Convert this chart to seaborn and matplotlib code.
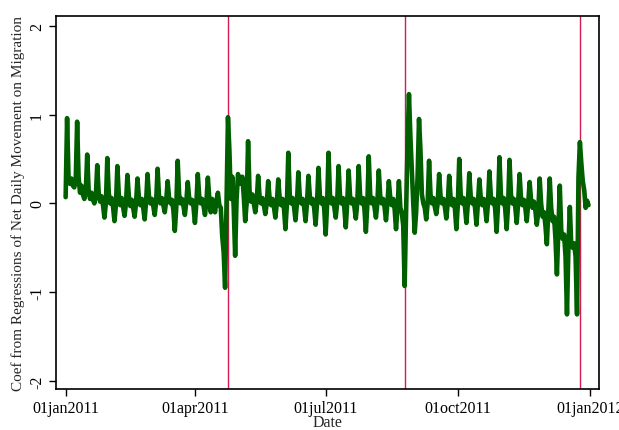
import pandas as pd
import numpy as np
import matplotlib
matplotlib.use("Agg")
import matplotlib.pyplot as plt
import matplotlib.dates as mdates
import seaborn as sns

# daily coefficients, one row per week (Sat .. Fri), starting 01jan2011
coef = [
    0.07, 0.96, 0.30, 0.22, 0.28, 0.20, 0.18,
    0.25, 0.92, 0.30, 0.12, 0.20, 0.10, 0.05,
    0.12, 0.55, 0.15, 0.05, 0.12, 0.04, 0.00,
    0.08, 0.43, 0.12, 0.02, 0.08, -0.02, -0.16,
    0.00, 0.51, 0.12, 0.00, 0.06, -0.04, -0.20,
    -0.02, 0.42, 0.10, -0.02, 0.06, -0.04, -0.14,
    0.00, 0.32, 0.08, -0.03, 0.04, -0.05, -0.15,
    0.00, 0.28, 0.06, -0.02, 0.05, -0.05, -0.18,
    0.02, 0.33, 0.08, 0.00, 0.05, -0.03, -0.13,
    0.02, 0.39, 0.08, 0.00, 0.06, -0.02, -0.10,
    0.03, 0.25, 0.06, 0.00, 0.04, -0.08, -0.31,
    -0.05, 0.48, 0.10, 0.00, 0.05, -0.03, -0.13,
    0.02, 0.24, 0.06, 0.00, 0.04, -0.04, -0.22,
    0.00, 0.33, 0.08, 0.00, 0.05, -0.03, -0.13,
    0.02, 0.29, 0.06, -0.10, 0.05, -0.02, -0.10,
    0.03, 0.12, -0.02, -0.05, -0.37, -0.55, -0.95,
    0.00, 0.97, 0.60, 0.05, 0.30, -0.05, -0.59,
    0.05, 0.33, 0.25, 0.22, 0.30, 0.08, -0.20,
    0.00, 0.70, 0.15, 0.02, 0.10, 0.00, -0.10,
    0.02, 0.31, 0.08, 0.00, 0.06, -0.02, -0.12,
    0.00, 0.25, 0.06, -0.02, 0.05, -0.04, -0.16,
    0.00, 0.27, 0.06, -0.02, 0.05, -0.06, -0.29,
    -0.02, 0.57, 0.10, 0.00, 0.06, -0.04, -0.19,
    0.00, 0.35, 0.08, 0.00, 0.05, -0.04, -0.20,
    0.00, 0.31, 0.08, 0.00, 0.05, -0.05, -0.24,
    0.00, 0.40, 0.08, 0.00, 0.06, -0.06, -0.35,
    -0.02, 0.57, 0.10, 0.00, 0.06, -0.04, -0.16,
    0.00, 0.42, 0.08, 0.00, 0.06, -0.05, -0.27,
    0.00, 0.37, 0.08, 0.00, 0.05, -0.04, -0.17,
    0.00, 0.42, 0.08, 0.00, 0.06, -0.06, -0.32,
    -0.02, 0.53, 0.10, 0.00, 0.06, -0.04, -0.16,
    0.00, 0.37, 0.08, 0.00, 0.05, -0.04, -0.19,
    0.00, 0.25, 0.06, -0.02, 0.05, -0.06, -0.29,
    -0.05, 0.25, -0.05, -0.10, -0.25, -0.93, -0.10,
    0.65, 1.23, 0.75, 0.36, 0.00, -0.33, -0.10,
    0.30, 0.95, 0.60, 0.10, 0.00, -0.05, -0.18,
    0.00, 0.48, 0.10, 0.00, 0.06, -0.04, -0.12,
    0.00, 0.33, 0.08, 0.00, 0.05, -0.04, -0.17,
    0.00, 0.31, 0.06, -0.02, 0.05, -0.06, -0.29,
    -0.02, 0.50, 0.10, 0.00, 0.06, -0.04, -0.22,
    0.00, 0.34, 0.08, 0.00, 0.05, -0.05, -0.24,
    0.00, 0.27, 0.06, -0.02, 0.05, -0.04, -0.20,
    0.00, 0.36, 0.08, 0.00, 0.05, -0.06, -0.32,
    -0.02, 0.52, 0.10, 0.00, 0.06, -0.06, -0.29,
    -0.02, 0.49, 0.10, 0.00, 0.05, -0.04, -0.22,
    0.00, 0.33, 0.06, -0.02, 0.04, -0.05, -0.20,
    0.00, 0.24, 0.04, -0.05, 0.02, -0.08, -0.24,
    -0.10, 0.28, 0.00, -0.15, -0.10, -0.25, -0.46,
    -0.10, 0.28, -0.05, -0.20, -0.15, -0.40, -0.80,
    -0.30, 0.20, -0.30, -0.40, -0.35, -0.60, -1.25,
    -0.50, -0.04, -0.48, -0.50, -0.45, -0.60, -1.25,
    0.29, 0.69, 0.45, 0.25, 0.15, -0.05, 0.03,
    -0.02,
]
start_date = "2011-01-01"
event_dates = ["2011-04-24", "2011-08-25", "2011-12-25"]
xtick_dates = ["2011-01-01", "2011-04-01", "2011-07-01", "2011-10-01", "2012-01-01"]
yticks = [-2, -1, 0, 1, 2]

df = pd.DataFrame({"date": pd.date_range(start_date, periods=len(coef), freq="D"),
                   "coef": coef})

sns.set_theme(style="ticks")
plt.rcParams["font.family"] = ["Liberation Serif", "DejaVu Serif"]

fig = plt.figure(figsize=(6.19, 4.31), dpi=100)
ax = fig.add_axes([0.0905, 0.0951, 0.8772, 0.8655])

for d in event_dates:
    ax.axvline(pd.Timestamp(d), color="#d81850", lw=1.0, zorder=1)

sns.lineplot(data=df, x="date", y="coef", color="#006000", lw=3.3,
             estimator=None, ax=ax, zorder=2)

ax.set_xlim(pd.Timestamp(start_date) - pd.Timedelta(days=6.7),
            pd.Timestamp(start_date) + pd.Timedelta(days=371.3))
ax.set_ylim(-2.09, 2.11)

ax.set_xticks([pd.Timestamp(d) for d in xtick_dates])
ax.set_xticklabels([pd.Timestamp(d).strftime("%d%b%Y").lower() for d in xtick_dates],
                   fontsize=11.5)
ax.set_yticks(yticks)
ax.set_yticklabels([str(v) for v in yticks], fontsize=11.5, rotation=90, va="center")

ax.tick_params(direction="out", length=5, width=1, colors="black", pad=3)
for s in ax.spines.values():
    s.set_visible(True)
    s.set_color("black")
    s.set_linewidth(1.2)

ax.set_xlabel("Date", fontsize=11.5, labelpad=-1.5)
ax.set_ylabel("Coef from Regressions of Net Daily Movement on Migration",
              fontsize=11.0, labelpad=3)

fig.savefig("out.png", dpi=100, facecolor="white")
